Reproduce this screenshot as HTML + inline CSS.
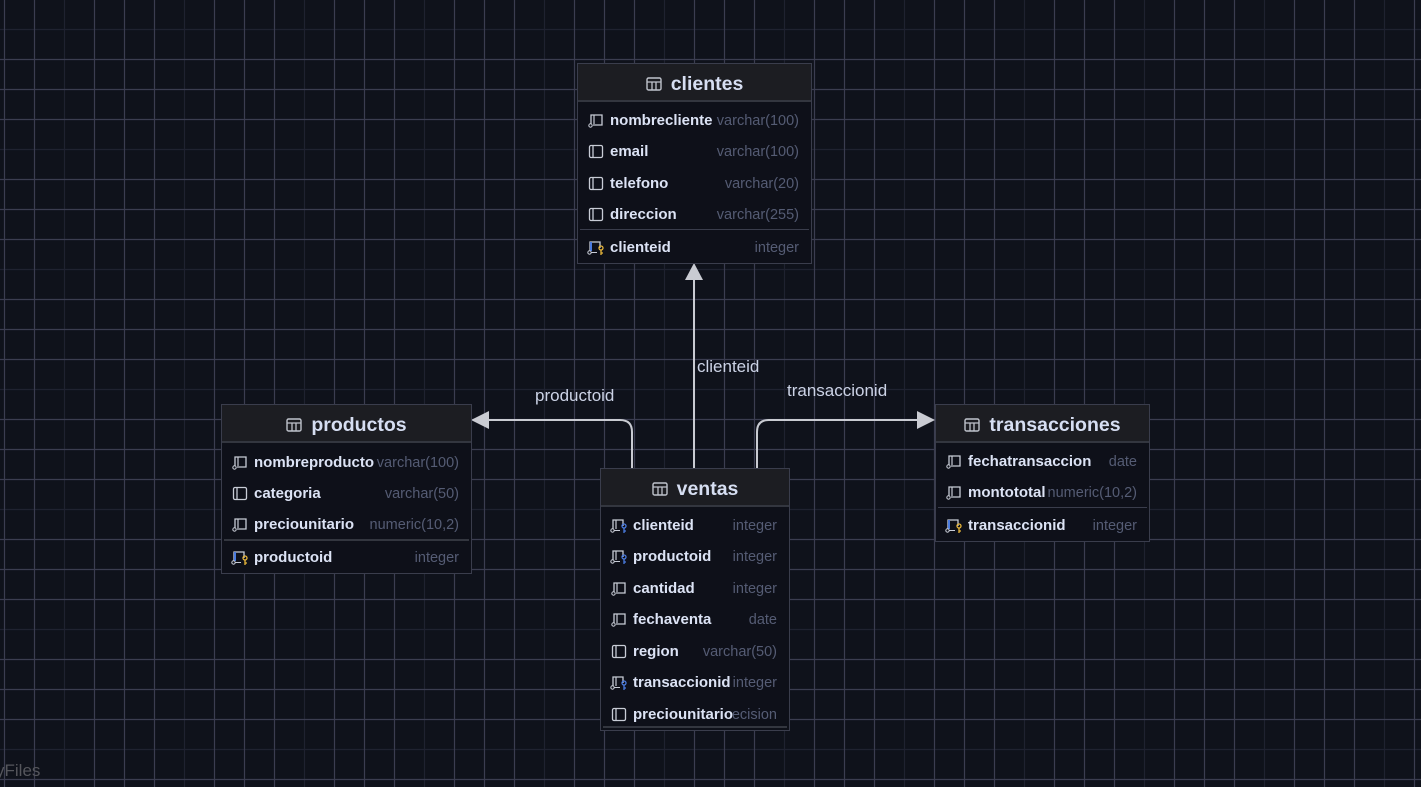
<!DOCTYPE html>
<html><head><meta charset="utf-8"><style>
*{margin:0;padding:0;box-sizing:border-box}
body{width:1421px;height:787px;overflow:hidden;position:relative;font-family:"Liberation Sans",sans-serif;background-color:#0f121b}
.grid{position:absolute;inset:0}
.t{position:absolute;border:1px solid #3a3d4c;background:#0e1019}
.h{position:absolute;left:0;right:0;top:0;height:38px;padding-top:4px;background:#1c1d22;border-bottom:2px solid #33363f;color:#d6def2;font-weight:bold;font-size:19.5px;display:flex;align-items:center;justify-content:center;gap:9px}
.r{position:absolute;left:9px;right:12px;height:20px;display:flex;align-items:center;font-size:15px}
.r svg{flex-shrink:0}
.r b{color:#dce3f5;margin-left:5px;font-weight:bold;white-space:nowrap;flex-shrink:0}
.r i{font-style:normal;color:#555c74;margin-left:auto;white-space:nowrap;overflow:hidden;padding-left:2px;font-size:14.5px;line-height:20px;padding-top:1px}
.d{position:absolute;left:2px;right:2px;height:1px;background:#3a3d4c}
.lbl{position:absolute;color:#ccd3e6;font-size:17px}
</style></head><body>
<svg class="grid" width="1421" height="787">
<defs>
<symbol id="pl" viewBox="0 0 16 15"><rect x="1.5" y="1.5" width="13" height="12" rx="1.5" fill="none" stroke="#c8ccd6" stroke-width="1.3"/><line x1="5" y1="2" x2="5" y2="13" stroke="#c8ccd6" stroke-width="1.3"/></symbol>
<symbol id="nn" viewBox="0 0 16 15"><path d="M3 11V2h11v10H5" fill="none" stroke="#c8ccd6" stroke-width="1.3"/><line x1="6" y1="2" x2="6" y2="11" stroke="#c8ccd6" stroke-width="1.2"/><circle cx="2.5" cy="12.5" r="1.7" fill="none" stroke="#c8ccd6"/></symbol>
<symbol id="pk" viewBox="0 0 18 15"><path d="M3 11V2h10v6" fill="none" stroke="#c8ccd6" stroke-width="1.3"/><line x1="4" y1="2" x2="4" y2="11" stroke="#4a7be0" stroke-width="2"/><circle cx="2.5" cy="12.5" r="1.7" fill="none" stroke="#c8ccd6"/><line x1="4" y1="12.5" x2="10" y2="12.5" stroke="#c8ccd6"/><circle cx="14" cy="8" r="2" fill="none" stroke="#e8b63a" stroke-width="1.3"/><path d="M14 10v5M14 13h2" stroke="#e8b63a" stroke-width="1.3"/></symbol>
<symbol id="fk" viewBox="0 0 18 15"><path d="M3 11V2h10v6" fill="none" stroke="#c8ccd6" stroke-width="1.3"/><line x1="6" y1="2" x2="6" y2="11" stroke="#c8ccd6" stroke-width="1.2"/><circle cx="2.5" cy="12.5" r="1.7" fill="none" stroke="#c8ccd6"/><line x1="4" y1="12.5" x2="10" y2="12.5" stroke="#c8ccd6"/><circle cx="14" cy="8" r="2" fill="none" stroke="#4a7be0" stroke-width="1.3"/><path d="M14 10v5M14 13h2" stroke="#4a7be0" stroke-width="1.3"/></symbol>
<symbol id="tb" viewBox="0 0 16 14"><rect x="1" y="1" width="14" height="12" rx="1.5" fill="none" stroke="#bfc3cc" stroke-width="1.4"/><path d="M1 5h14M6 5v8M10 5v8" stroke="#bfc3cc" stroke-width="1.3"/></symbol>
</defs>
<path stroke="#1f2230" stroke-width="1.2" fill="none" d="M64.5 0V787M184.5 0V787M304.5 0V787M424.5 0V787M544.5 0V787M664.5 0V787M784.5 0V787M904.5 0V787M1024.5 0V787M1144.5 0V787M1264.5 0V787M1384.5 0V787M0 29.5H1421M0 149.5H1421M0 269.5H1421M0 389.5H1421M0 509.5H1421M0 629.5H1421M0 749.5H1421"/>
<path stroke="#3b3d50" stroke-width="1.2" fill="none" d="M4.5 0V787M34.5 0V787M94.5 0V787M124.5 0V787M154.5 0V787M214.5 0V787M244.5 0V787M274.5 0V787M334.5 0V787M364.5 0V787M394.5 0V787M454.5 0V787M484.5 0V787M514.5 0V787M574.5 0V787M604.5 0V787M634.5 0V787M694.5 0V787M724.5 0V787M754.5 0V787M814.5 0V787M844.5 0V787M874.5 0V787M934.5 0V787M964.5 0V787M994.5 0V787M1054.5 0V787M1084.5 0V787M1114.5 0V787M1174.5 0V787M1204.5 0V787M1234.5 0V787M1294.5 0V787M1324.5 0V787M1354.5 0V787M1414.5 0V787M0 59.5H1421M0 89.5H1421M0 119.5H1421M0 179.5H1421M0 209.5H1421M0 239.5H1421M0 299.5H1421M0 329.5H1421M0 359.5H1421M0 419.5H1421M0 449.5H1421M0 479.5H1421M0 539.5H1421M0 569.5H1421M0 599.5H1421M0 659.5H1421M0 689.5H1421M0 719.5H1421M0 779.5H1421"/>
<g stroke="#c9cbd2" stroke-width="2" fill="none">
<line x1="694" y1="278" x2="694" y2="468"/>
<path d="M632 468V432q0-12-12-12H488"/>
<path d="M757 468V432q0-12 12-12H918"/>
</g>
<g fill="#c9cbd2">
<polygon points="694,263 685,280 703,280"/>
<polygon points="471,420 489,411 489,429"/>
<polygon points="935,420 917,411 917,429"/>
</g>
</svg>
<div style="position:absolute;left:-4px;top:761px;color:#55565c;font-size:17px">yFiles</div>
<div class="lbl" style="left:535px;top:386px">productoid</div>
<div class="lbl" style="left:697px;top:357px">clienteid</div>
<div class="lbl" style="left:787px;top:381px">transaccionid</div>

<div class="t" style="left:577px;top:63px;width:235px;height:201px">
<div class="h"><svg width="16" height="14"><use href="#tb"/></svg>clientes</div>
<div class="r" style="top:46px"><svg width="18" height="15"><use href="#nn"/></svg><b>nombrecliente</b><i>varchar(100)</i></div>
<div class="r" style="top:77px"><svg width="18" height="15"><use href="#pl"/></svg><b>email</b><i>varchar(100)</i></div>
<div class="r" style="top:109px"><svg width="18" height="15"><use href="#pl"/></svg><b>telefono</b><i>varchar(20)</i></div>
<div class="r" style="top:140px"><svg width="18" height="15"><use href="#pl"/></svg><b>direccion</b><i>varchar(255)</i></div>
<div class="d" style="top:165px"></div>
<div class="r" style="top:173px"><svg width="18" height="15"><use href="#pk"/></svg><b>clienteid</b><i>integer</i></div>
</div>

<div class="t" style="left:221px;top:404px;width:251px;height:170px">
<div class="h"><svg width="16" height="14"><use href="#tb"/></svg>productos</div>
<div class="r" style="top:47px"><svg width="18" height="15"><use href="#nn"/></svg><b>nombreproducto</b><i>varchar(100)</i></div>
<div class="r" style="top:78px"><svg width="18" height="15"><use href="#pl"/></svg><b>categoria</b><i>varchar(50)</i></div>
<div class="r" style="top:109px"><svg width="18" height="15"><use href="#nn"/></svg><b>preciounitario</b><i>numeric(10,2)</i></div>
<div class="d" style="top:134px;height:2px;background:#33363f"></div>
<div class="r" style="top:142px"><svg width="18" height="15"><use href="#pk"/></svg><b>productoid</b><i>integer</i></div>
</div>

<div class="t" style="left:935px;top:404px;width:215px;height:138px">
<div class="h"><svg width="16" height="14"><use href="#tb"/></svg>transacciones</div>
<div class="r" style="top:46px"><svg width="18" height="15"><use href="#nn"/></svg><b>fechatransaccion</b><i>date</i></div>
<div class="r" style="top:77px"><svg width="18" height="15"><use href="#nn"/></svg><b>montototal</b><i>numeric(10,2)</i></div>
<div class="d" style="top:102px"></div>
<div class="r" style="top:110px"><svg width="18" height="15"><use href="#pk"/></svg><b>transaccionid</b><i>integer</i></div>
</div>

<div class="t" style="left:600px;top:468px;width:190px;height:263px">
<div class="h"><svg width="16" height="14"><use href="#tb"/></svg>ventas</div>
<div class="r" style="top:46px"><svg width="18" height="15"><use href="#fk"/></svg><b>clienteid</b><i>integer</i></div>
<div class="r" style="top:77px"><svg width="18" height="15"><use href="#fk"/></svg><b>productoid</b><i>integer</i></div>
<div class="r" style="top:109px"><svg width="18" height="15"><use href="#nn"/></svg><b>cantidad</b><i>integer</i></div>
<div class="r" style="top:140px"><svg width="18" height="15"><use href="#nn"/></svg><b>fechaventa</b><i>date</i></div>
<div class="r" style="top:172px"><svg width="18" height="15"><use href="#pl"/></svg><b>region</b><i>varchar(50)</i></div>
<div class="r" style="top:203px"><svg width="18" height="15"><use href="#fk"/></svg><b>transaccionid</b><i>integer</i></div>
<div class="r" style="top:235px"><svg width="18" height="15"><use href="#pl"/></svg><b>preciounitario</b><i style="direction:rtl">precision</i></div>
<div class="d" style="top:257px;height:2px;background:#33363f"></div>
</div>
</body></html>
